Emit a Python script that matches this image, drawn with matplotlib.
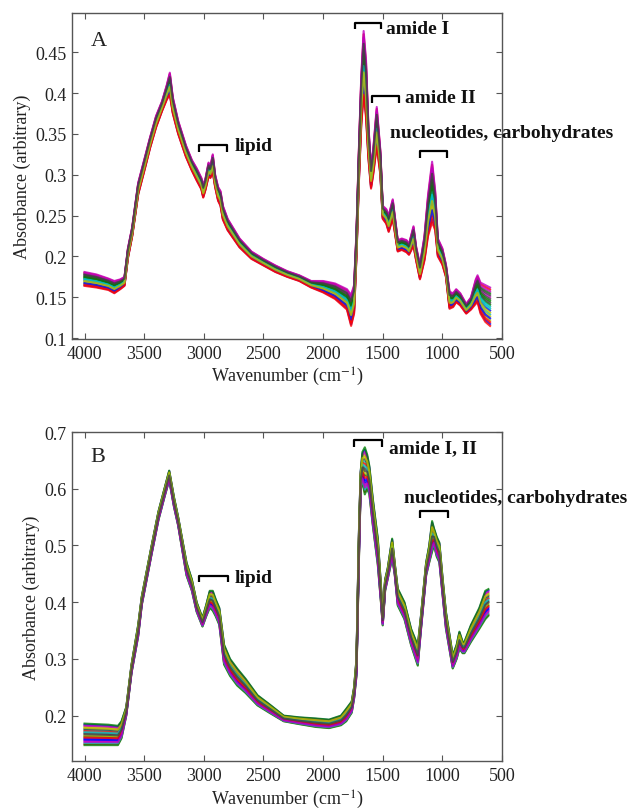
import numpy as np
import matplotlib
matplotlib.use("Agg")
import matplotlib.pyplot as plt

plt.rcParams['font.family'] = ['Liberation Serif', 'DejaVu Serif']
plt.rcParams['mathtext.fontset'] = 'stix'

# ---------------- data ----------------
# Panel A: wavenumber, lower and upper edge of the band of spectra
wn_a = [4000, 3900, 3800, 3750, 3700, 3665, 3636, 3600, 3550, 3500, 3450, 3400,
        3350, 3310, 3285, 3260, 3215, 3150, 3100, 3060, 3020, 3005, 2985, 2960,
        2945, 2925, 2905, 2880, 2860, 2840, 2800, 2700, 2600, 2500, 2400, 2300,
        2200, 2100, 2000, 1900, 1800, 1765, 1740, 1720, 1700, 1680, 1660, 1640,
        1620, 1598, 1580, 1550, 1520, 1500, 1470, 1450, 1416, 1374, 1340, 1300,
        1280, 1242, 1220, 1188, 1150, 1120, 1086, 1060, 1038, 1000, 970, 940,
        910, 884, 850, 800, 760, 720, 705, 680, 640, 600]
lo_a = [.164, .162, .159, .155, .160, .164, .198, .225, .276, .304, .333, .358,
        .378, .392, .398, .375, .350, .322, .305, .293, .282, .272, .282, .298,
        .296, .303, .285, .268, .262, .245, .232, .211, .197, .189, .181, .175,
        .170, .162, .156, .148, .135, .115, .130, .200, .290, .360, .398, .370,
        .320, .283, .300, .335, .300, .246, .240, .230, .246, .206, .208, .205,
        .202, .213, .195, .172, .195, .225, .242, .232, .200, .190, .175, .136,
        .138, .144, .140, .130, .135, .142, .144, .130, .120, .115]
hi_a = [.181, .178, .173, .170, .172, .175, .210, .236, .290, .318, .346, .372,
        .390, .410, .425, .395, .366, .336, .318, .308, .296, .287, .296, .315,
        .310, .325, .300, .285, .280, .262, .246, .222, .206, .197, .189, .182,
        .177, .170, .170, .167, .160, .153, .165, .230, .330, .420, .476, .440,
        .360, .310, .330, .383, .330, .262, .258, .250, .270, .220, .222, .220,
        .215, .237, .212, .190, .225, .275, .316, .280, .222, .210, .190, .157,
        .155, .160, .155, .142, .150, .172, .177, .168, .165, .162]

# Panel B
wn_b = [4000, 3800, 3720, 3690, 3650, 3606, 3550, 3520, 3440, 3380, 3330, 3290,
        3250, 3215, 3145, 3100, 3060, 3011, 2980, 2950, 2925, 2900, 2870, 2830,
        2780, 2720, 2650, 2550, 2450, 2330, 2200, 2060, 1950, 1850, 1806, 1760,
        1740, 1720, 1700, 1685, 1670, 1650, 1630, 1612, 1583, 1541, 1515, 1500,
        1480, 1458, 1421, 1400, 1374, 1318, 1262, 1206, 1180, 1136, 1110, 1086,
        1070, 1047, 1025, 997, 970, 913, 880, 857, 830, 815, 760, 690, 640, 614]
lo_b = [.148, .148, .148, .160, .200, .275, .340, .395, .482, .545, .585, .615,
        .568, .535, .447, .420, .383, .357, .375, .390, .385, .375, .360, .290,
        .270, .253, .240, .218, .205, .190, .185, .180, .178, .183, .190, .205,
        .230, .270, .470, .600, .610, .590, .600, .590, .535, .465, .400, .359,
        .420, .441, .477, .450, .394, .370, .324, .288, .350, .447, .470, .489,
        .500, .480, .470, .410, .353, .283, .300, .318, .310, .310, .330, .353,
        .370, .376]
hi_b = [.186, .184, .182, .190, .215, .290, .360, .410, .497, .560, .600, .632,
        .585, .550, .470, .440, .400, .372, .395, .420, .420, .405, .390, .325,
        .300, .283, .265, .236, .220, .200, .197, .195, .193, .200, .212, .225,
        .250, .300, .520, .630, .665, .673, .660, .640, .582, .512, .430, .377,
        .440, .460, .512, .470, .424, .400, .353, .324, .375, .470, .500, .543,
        .530, .515, .505, .440, .383, .306, .325, .348, .330, .330, .360, .390,
        .420, .423]

# position of each spectrum inside the band (0 = lower edge, 1 = upper edge)
frac_a = [0.05, 0.55, 0.95, 0.30, 0.75, 0.15, 0.60, 0.40, 0.85, 0.10, 0.50,
          0.90, 0.25, 0.70, 0.20, 0.65, 0.00, 0.45, 1.00, 0.35, 0.80]
frac_b = [0.95, 0.40, 0.05, 0.70, 0.20, 0.85, 0.55, 0.30, 0.00, 0.65, 0.10,
          0.90, 0.45, 0.75, 0.25, 1.00, 0.35, 0.60, 0.15, 0.80, 0.50]

line_colors = [(0, 0, 1), (0, 0.5, 0), (1, 0, 0), (0, 0.75, 0.75),
               (0.75, 0, 0.75), (0.75, 0.75, 0), (0.25, 0.25, 0.25)]

xticks = [4000, 3500, 3000, 2500, 2000, 1500, 1000, 500]
yticks_a = [0.1, 0.15, 0.2, 0.25, 0.3, 0.35, 0.4, 0.45]
ytick_labels_a = ['0.1', '0.15', '0.2', '0.25', '0.3', '0.35', '0.4', '0.45']
yticks_b = [0.2, 0.3, 0.4, 0.5, 0.6, 0.7]
ytick_labels_b = ['0.2', '0.3', '0.4', '0.5', '0.6', '0.7']

# ---------------- figure ----------------
W, H = 635, 812
fig = plt.figure(figsize=(W / 100, H / 100), dpi=100)


def px_axes(left, top, right, bottom):
    return fig.add_axes([left / W, 1 - bottom / H, (right - left) / W, (bottom - top) / H])


axA = px_axes(72, 14, 502, 340)
axB = px_axes(72, 433, 502, 762)

spine_col = '#555555'
txt_col = '#222222'


def draw_band(ax, wn, lo, hi, fracs):
    wn = np.array(wn)
    lo = np.array(lo)
    hi = np.array(hi)
    for i, f in enumerate(fracs):
        ax.plot(wn, lo + f * (hi - lo), color=line_colors[i % len(line_colors)],
                lw=1.5, alpha=0.8, solid_joinstyle='round')


def style(ax, ylim, yticks, ylabels):
    ax.set_xlim(4105, 500)
    ax.set_ylim(*ylim)
    ax.set_xticks(xticks)
    ax.set_xticklabels([str(t) for t in xticks])
    ax.set_yticks(yticks)
    ax.set_yticklabels(ylabels)
    ax.tick_params(direction='in', length=4, width=0.8, top=True, right=True,
                   labelsize=13, colors=spine_col, labelcolor=txt_col, pad=4)
    for s in ax.spines.values():
        s.set_color(spine_col)
        s.set_linewidth(1.0)
    ax.set_xlabel('Wavenumber (cm$^{-1}$)', fontsize=13, color=txt_col)
    ax.set_ylabel('Absorbance (arbitrary)', fontsize=13, color=txt_col)


def bracket(ax, x0, x1, y, leg, text=None, tx=None, ty=None):
    ax.plot([x0, x0, x1, x1], [y - leg, y, y, y - leg], color='black', lw=1.6,
            clip_on=False, solid_capstyle='butt')
    if text is not None:
        ax.text(tx, ty, text, fontsize=14, fontweight='bold', ha='left', va='center',
                color='#111111', clip_on=False)


# Panel A
draw_band(axA, wn_a, lo_a, hi_a, frac_a)
style(axA, (0.099, 0.498), yticks_a, ytick_labels_a)
axA.xaxis.set_label_coords(0.5, -0.128)
axA.xaxis.label.set_va('baseline')
axA.yaxis.set_label_coords(-0.116, 0.5)
axA.yaxis.label.set_va('center')
axA.text(0.0435, 0.915, 'A', transform=axA.transAxes, fontsize=16, va='center',
         ha='left', color=txt_col)
bracket(axA, 3040, 2805, 0.336, 0.008, 'lipid', 2740, 0.336)
bracket(axA, 1733, 1516, 0.486, 0.008, 'amide I', 1470, 0.479)
bracket(axA, 1594, 1362, 0.396, 0.008, 'amide II', 1310, 0.394)
bracket(axA, 1188, 965, 0.329, 0.008)
axA.text(1440, 0.352, 'nucleotides, carbohydrates', fontsize=14, fontweight='bold',
         ha='left', va='center', color='#111111', clip_on=False)

# Panel B
draw_band(axB, wn_b, lo_b, hi_b, frac_b)
style(axB, (0.12, 0.7), yticks_b, ytick_labels_b)
axB.xaxis.set_label_coords(0.5, -0.131)
axB.xaxis.label.set_va('baseline')
axB.yaxis.set_label_coords(-0.095, 0.5)
axB.yaxis.label.set_va('center')
axB.text(0.0435, 0.927, 'B', transform=axB.transAxes, fontsize=16, va='center',
         ha='left', color=txt_col)
bracket(axB, 3037, 2797, 0.447, 0.012, 'lipid', 2745, 0.444)
bracket(axB, 1743, 1505, 0.686, 0.012, 'amide I, II', 1450, 0.673)
bracket(axB, 1188, 950, 0.560, 0.012)
axB.text(1325, 0.585, 'nucleotides, carbohydrates', fontsize=14, fontweight='bold',
         ha='left', va='center', color='#111111', clip_on=False)

fig.savefig('out.png', dpi=100)
